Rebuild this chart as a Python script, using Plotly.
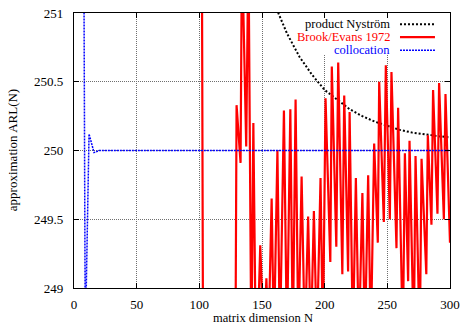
import plotly.graph_objects as go

# ---- data -------------------------------------------------------------
# product Nyström approximation
nystrom_n = [140, 150, 160, 163, 170, 180, 190, 200, 210, 220, 230, 240,
             250, 260, 270, 280, 290, 300]
nystrom_arl = [251.85, 251.40, 251.08, 251.00, 250.85, 250.68, 250.55, 250.44,
               250.37, 250.30, 250.25, 250.21, 250.18, 250.15, 250.13, 250.115,
               250.105, 250.095]

# Brook/Evans 1972 Markov chain approximation
brook_n = [102, 103, 128.8, 129.7, 132.9, 134.0, 137.4, 139.2, 141.5, 143.1,
           145.1, 146.7, 148.6, 151.5, 153.5, 155.1, 157.7, 159.5, 162.3, 164.3,
           167.5, 169.9, 172.6, 174.6, 176.8, 179.0, 181.6, 184.2, 186.8, 189.0,
           191.4, 193.8, 196.7, 198.6, 200.7, 204.5, 205.7, 209.3, 210.8, 214.1,
           215.6, 218.7, 219.9, 222.5, 224.9, 227.3, 230.1, 232.1, 234.7, 236.8,
           239.5, 242.4, 243.5, 247.2, 248.8, 252.0, 253.3, 257.3, 258.6, 262.4,
           264.0, 266.6, 267.7, 271.1, 272.5, 275.9, 277.3, 281.1, 282.3, 285.2,
           286.5, 290.0, 291.3, 295.1, 296.4, 300.0]
brook_arl = [251.6, 248.4, 248.5, 250.33, 249.91, 251.5, 250.03, 251.5, 248.5, 250.20,
             248.5, 248.7, 249.31, 248.6, 249.07, 248.6, 249.65, 248.6, 250.00, 248.6,
             250.29, 248.6, 250.30, 248.6, 250.37, 248.6, 249.81, 248.6, 249.52, 248.6,
             249.56, 248.6, 249.80, 248.6, 250.38, 249.19, 250.61, 249.30, 250.64, 249.10,
             250.40, 249.12, 250.28, 248.6, 249.80, 248.6, 249.69, 248.6, 249.82, 248.6,
             250.05, 249.33, 250.50, 249.48, 250.62, 249.50, 250.57, 249.29, 250.31, 248.6,
             249.98, 249.05, 250.07, 248.6, 249.96, 248.6, 249.94, 249.10, 250.11, 249.46,
             250.44, 249.54, 250.49, 249.50, 250.41, 249.33]

# collocation
colloc_n = [6, 8, 9, 12, 16, 20, 50, 100, 150, 200, 250, 300]
colloc_arl = [256.0, 251.3, 248.6, 250.12, 249.985, 250.0, 250.0, 250.0, 250.0,
              250.0, 250.0, 250.0]

x_ticks = [0, 50, 100, 150, 200, 250, 300]
y_ticks = [249, 249.5, 250, 250.5, 251]

series = [
    ("product Nyström", nystrom_n, nystrom_arl, "#000000", 2, "2px,2px"),
    ("Brook/Evans 1972", brook_n, brook_arl, "#ff0000", 2.2, "solid"),
    ("collocation", colloc_n, colloc_arl, "#0000ff", 1.5, "2px,1px"),
]

FONT = "Liberation Serif, Times New Roman, serif"

fig = go.Figure()
for name, xs, ys, color, width, dash in series:
    fig.add_trace(go.Scatter(x=xs, y=ys, mode="lines", name=name,
                             line=dict(color=color, width=width, dash=dash),
                             showlegend=False))

axis_common = dict(
    showline=True, linecolor="black", linewidth=1.2, mirror="ticks",
    ticks="inside", ticklen=5, tickcolor="black", tickwidth=1,
    showgrid=True, gridcolor="#6f6f6f", griddash="1px,1px", gridwidth=1,
    zeroline=False, automargin=False,
    tickfont=dict(family=FONT, size=13, color="black"),
)

fig.update_xaxes(range=[0, 300], tickvals=x_ticks, ticklabelstandoff=4,
                 **axis_common)
fig.update_yaxes(range=[249, 251], tickvals=y_ticks,
                 ticktext=[str(v) for v in y_ticks], ticklabelstandoff=7,
                 **axis_common)

# axis titles
annotations = [
    dict(text="matrix dimension N", xref="paper", yref="paper", x=0.502, y=-0.11,
         xanchor="center", yanchor="middle", showarrow=False, borderpad=0,
         font=dict(family=FONT, size=12.5, color="black")),
    dict(text="approximation ARL(N)", xref="paper", yref="paper", x=-0.163, y=0.5,
         xanchor="center", yanchor="middle", textangle=-90, showarrow=False,
         font=dict(family=FONT, size=13, color="black")),
]

# key: opaque box, right-aligned coloured labels, line samples on the right
shapes = [dict(type="rect", xref="paper", yref="paper", x0=0.602, x1=0.995,
               y0=0.848, y1=0.982, fillcolor="white", line=dict(width=0),
               layer="above")]
rows = [0.959, 0.912, 0.865]
for (name, xs, ys, color, width, dash), yy in zip(series, rows):
    shapes.append(dict(type="line", xref="paper", yref="paper", x0=0.867, x1=0.960,
                       y0=yy, y1=yy, layer="above",
                       line=dict(color=color, width=width, dash=dash)))
    annotations.append(dict(text=name, xref="paper", yref="paper", x=0.843, y=yy,
                            xanchor="right", yanchor="middle", showarrow=False,
                            borderpad=0,
                            font=dict(family=FONT, size=12.5, color=color)))

fig.update_layout(
    width=461, height=326,
    margin=dict(l=74, r=11, t=13, b=38),
    paper_bgcolor="white", plot_bgcolor="white",
    shapes=shapes, annotations=annotations,
    font=dict(family=FONT, size=13, color="black"),
)

fig.write_html("out.html")
